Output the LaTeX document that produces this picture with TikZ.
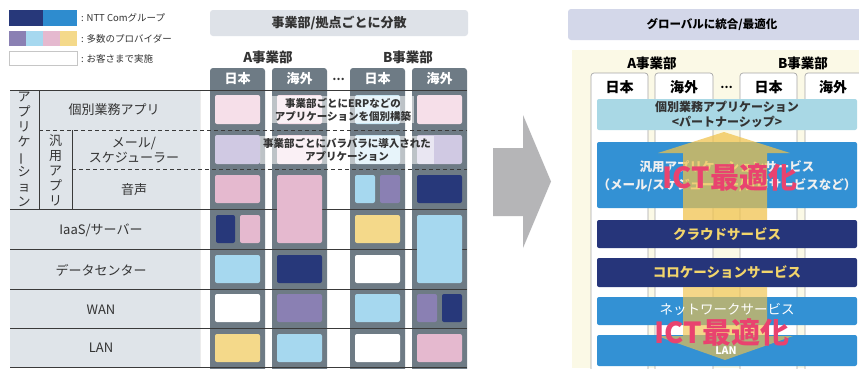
\documentclass[tikz,border=0pt]{standalone}
\usepackage{fontspec}
\setmainfont{Noto Sans CJK JP}
\usepackage{graphicx}
\definecolor{navy}{HTML}{27387A}
\definecolor{nttblue}{HTML}{2E8CCF}
\definecolor{purp}{HTML}{8A80B3}
\definecolor{lblue}{HTML}{A6D8EF}
\definecolor{pinkc}{HTML}{E5B9CF}
\definecolor{yell}{HTML}{F4D98A}
\definecolor{colgray}{HTML}{6E7B85}
\definecolor{tablebg}{HTML}{DFE4E9}
\definecolor{headbg}{HTML}{DEE2E8}
\definecolor{palepink}{HTML}{F6DFE9}
\definecolor{lav}{HTML}{D0C9E3}
\definecolor{beige}{HTML}{FBF9E6}
\definecolor{cyanband}{HTML}{A9D8E5}
\definecolor{blueband}{HTML}{3391D4}
\definecolor{navyband}{HTML}{26357A}
\definecolor{yeltext}{HTML}{F2D56C}
\definecolor{arrowyel}{HTML}{F0C24A}
\definecolor{ictpink}{HTML}{E9436F}
\definecolor{bigarrow}{HTML}{B5B5B7}
\definecolor{txt}{HTML}{333333}
\definecolor{linec}{HTML}{3A3A3A}
\newcommand\vbar{\rotatebox[origin=c]{90}{ー}}
\begin{document}
\begin{tikzpicture}[x=1pt,y=-1pt,
  cellr/.style={rounded corners=2pt},
  hline/.style={draw=linec,line width=0.8pt},
  dline/.style={draw=linec,line width=0.8pt,dash pattern=on 4pt off 3pt},
  lbl/.style={inner sep=0pt,text=txt,font=\fontsize{13}{15}\selectfont,align=center},
  bold/.style={inner sep=0pt,text=txt,font=\bfseries\fontsize{13}{15}\selectfont,align=center},
  leg/.style={inner sep=0pt,anchor=west,text=txt,font=\fontsize{9.5}{11}\selectfont},
  colhead/.style={inner sep=0pt,text=white,font=\bfseries\fontsize{13}{15}\selectfont},
  rhead/.style={inner sep=0pt,text=black,font=\bfseries\fontsize{13.5}{15}\selectfont},
  overlay/.style={fill=white,fill opacity=0.55,text opacity=1,inner xsep=3pt,inner ysep=2pt,text=txt,
     font=\bfseries\fontsize{10.5}{13}\selectfont,align=center},
  bandtxt/.style={inner sep=0pt,align=center,font=\bfseries\fontsize{13}{16}\selectfont},
  ict/.style={inner sep=0pt,text=ictpink,font=\bfseries\fontsize{29}{30}\selectfont},
]
\useasboundingbox (0,0) rectangle (859,368);
\clip (0,0) rectangle (859,368);
\fill[white] (0,0) rectangle (859,368);

% ---------- legend ----------
\fill[navy] (9,10) rectangle (43,26);
\fill[nttblue] (43,10) rectangle (77,26);
\fill[purp] (9,31) rectangle (26,46);
\fill[lblue] (26,31) rectangle (43,46);
\fill[pinkc] (43,31) rectangle (60,46);
\fill[yell] (60,31) rectangle (77,46);
\fill[gray!25] (10,52) rectangle (78,66);
\filldraw[fill=white,draw=gray!45,line width=0.4pt] (9,51) rectangle (77,65);
\node[leg] (leg1) at (81,18) {: NTT Comグループ};
\node[leg] (leg2) at (81,38.5) {: 多数のプロバイダー};
\node[leg] (leg3) at (81,58.5) {: お客さまで実施};

% ---------- left header ----------
\fill[headbg,rounded corners=3pt] (210,10) rectangle (468,36);
\node[bold] (lhead) at (339,23) {事業部/拠点ごとに分散};
\node[bold,font=\bfseries\fontsize{13.5}{15}\selectfont] (lA) at (268,57) {A事業部};
\node[bold,font=\bfseries\fontsize{13.5}{15}\selectfont] (lB) at (408,57) {B事業部};

% ---------- table background ----------
\fill[tablebg] (10,90) rectangle (200,368);
\draw[white!85!gray,line width=0.6pt] (200,90) -- (200,368);

% columns
\foreach \a/\b in {210/265,272/327,350/405,412/467}{
  \fill[colgray,rounded corners=3pt] (\a,372) -- (\a,68) -- (\b,68) -- (\b,372) -- cycle;
}
\node[colhead] (h1) at (237.5,79) {日本};
\node[colhead] (h2) at (299.5,79) {海外};
\node[text=txt,inner sep=0pt,font=\bfseries\fontsize{11}{12}\selectfont] (hdots) at (338.5,79) {…};
\node[colhead] (h3) at (377.5,79) {日本};
\node[colhead] (h4) at (439.5,79) {海外};

% lines
\foreach \y in {90,209,249,289,328,367}{ \draw[hline] (10,\y) -- (467,\y); }
\draw[dline] (39,130) -- (467,130);
\draw[dline] (72,169) -- (467,169);
\draw[hline] (39,90) -- (39,209);
\draw[hline] (72,130) -- (72,209);

% row labels
\node[lbl] (vapp) at (24,149.5) {ア\\プ\\リ\\ケ\\\vbar\\シ\\ョ\\ン};
\node[lbl] (vgen) at (55.5,170) {汎\\用\\ア\\プ\\リ};
\node[lbl] (r1) at (114,110) {個別業務アプリ};
\node[lbl] (r2) at (134,150) {メール/\\スケジューラー};
\node[lbl] (r3) at (134,190) {音声};
\node[lbl] (r4) at (101,230) {IaaS/サーバー};
\node[lbl] (r5) at (101,270) {データセンター};
\node[lbl] (r6) at (101,310) {WAN};
\node[lbl] (r7) at (101,348) {LAN};

% cells row 1
\fill[cellr,palepink] (215,95) rectangle (260,124);
\fill[cellr,palepink] (277,95) rectangle (322,124);
\fill[cellr,lblue!60] (355,95) rectangle (400,124);
\fill[cellr,palepink] (417,95) rectangle (462,124);
% row 2
\fill[cellr,lav] (215,135) rectangle (260,164);
\fill[cellr,palepink] (277,135) rectangle (322,164);
\fill[cellr,lblue!60] (355,135) rectangle (400,164);
\fill[cellr,lav] (417,135) rectangle (462,164);
% row 3
\fill[cellr,pinkc] (215,175) rectangle (260,203);
\fill[cellr,pinkc] (277,175) rectangle (322,243);
\fill[cellr,lblue] (355,175) rectangle (375,203);
\fill[cellr,purp] (380,175) rectangle (400,203);
\fill[cellr,navy] (417,175) rectangle (462,203);
% row 4
\fill[cellr,navy] (216,215) rectangle (235,243);
\fill[cellr,pinkc] (240,215) rectangle (260,243);
\fill[cellr,yell] (355,215) rectangle (400,243);
\fill[cellr,lblue] (417,215) rectangle (462,283);
% row 5
\fill[cellr,lblue] (215,255) rectangle (260,283);
\fill[cellr,navy] (277,255) rectangle (322,283);
\fill[cellr,white] (355,255) rectangle (400,283);
% row 6
\fill[cellr,white] (215,294) rectangle (260,322);
\fill[cellr,purp] (277,294) rectangle (322,322);
\fill[cellr,lblue] (355,294) rectangle (400,322);
\fill[cellr,purp] (417,294) rectangle (437,322);
\fill[cellr,navy] (442,294) rectangle (462,322);
% row 7
\fill[cellr,yell] (215,334) rectangle (260,362);
\fill[cellr,lblue] (277,334) rectangle (322,362);
\fill[cellr,white] (355,334) rectangle (400,362);
\fill[cellr,pinkc] (417,334) rectangle (462,362);

% overlays
\node[overlay] (ov1) at (343,109.5) {事業部ごとにERPなどの\\アプリケーションを個別構築};
\node[overlay] (ov2) at (347,150) {事業部ごとにバラバラに導入された\\アプリケーション};

% ---------- big grey arrow ----------
\fill[bigarrow] (493,148) -- (523,148) -- (523,115) -- (551,181.5) -- (523,248) -- (523,216) -- (493,216) -- cycle;

% ---------- right panel ----------
\fill[headbg!95!blue,rounded corners=3pt] (568,9) rectangle (875,40);
\node[bold,font=\bfseries\fontsize{11.5}{13}\selectfont,text=black] (rhd) at (712,24) {グローバルに統合/最適化};
\fill[beige] (572,50) rectangle (870,368);
\node[rhead] (rA) at (652,63) {A事業部};
\node[rhead] (rB) at (803,63) {B事業部};
\foreach \a/\b in {591/648,655/713,740/797,805/866}{
  \filldraw[fill=white,draw=gray!70,line width=0.7pt,rounded corners=3pt] (\a,380) -- (\a,73) -- (\b,73) -- (\b,380);
}
\node[rhead,font=\bfseries\fontsize{14}{15}\selectfont] (rh1) at (619.5,87) {日本};
\node[rhead,font=\bfseries\fontsize{14}{15}\selectfont] (rh2) at (684,87) {海外};
\node[rhead,font=\bfseries\fontsize{11}{12}\selectfont] (rdots) at (726.5,87) {…};
\node[rhead,font=\bfseries\fontsize{14}{15}\selectfont] (rh3) at (768.5,87) {日本};
\node[rhead,font=\bfseries\fontsize{14}{15}\selectfont] (rh4) at (833,87) {海外};

% bands
\fill[cyanband,rounded corners=2pt] (597,99) rectangle (857,130);
\node[bandtxt,text=txt,font=\bfseries\fontsize{12}{14.5}\selectfont] (b1) at (727,114.5) {個別業務アプリケーション\\<パートナーシップ>};
\fill[blueband,rounded corners=2pt] (597,142) rectangle (857,208);
\node[bandtxt,text=white!88!gray,font=\bfseries\fontsize{12.5}{18}\selectfont] (b2) at (727,176) {汎用アプリケーションサービス\\（メール/スケジューラー/音声サービスなど）};
% up arrow
\fill[arrowyel,opacity=0.72] (683,222) -- (683,153) -- (658,153) -- (724,132) -- (790,153) -- (767,153) -- (767,222) -- cycle;
\fill[navyband,rounded corners=2pt] (597,220) rectangle (857,248);
\node[bandtxt,text=yeltext,font=\bfseries\fontsize{13.5}{15}\selectfont] (b3) at (727,234) {クラウドサービス};
\fill[navyband,rounded corners=2pt] (597,258) rectangle (857,287);
\node[bandtxt,text=yeltext,font=\bfseries\fontsize{13.5}{15}\selectfont] (b4) at (727,272.5) {コロケーションサービス};
\fill[blueband,rounded corners=2pt] (597,297) rectangle (857,325);
\fill[blueband,rounded corners=2pt] (597,335) rectangle (857,366);
% down arrow
\fill[arrowyel,opacity=0.65] (683,287) -- (767,287) -- (767,336) -- (793,336) -- (725,360) -- (657,336) -- (683,336) -- cycle;
\node[bandtxt,text=white,font=\fontsize{13.5}{15}\selectfont] (b5) at (727,309) {ネットワークサービス};
\node[bandtxt,text=white,font=\bfseries\fontsize{10.5}{12}\selectfont] (b6) at (726,351) {LAN};

\node[ict] (ict1) at (730,178) {ICT最適化};
\node[ict] (ict2) at (722,332) {ICT最適化};
\end{tikzpicture}
\end{document}
